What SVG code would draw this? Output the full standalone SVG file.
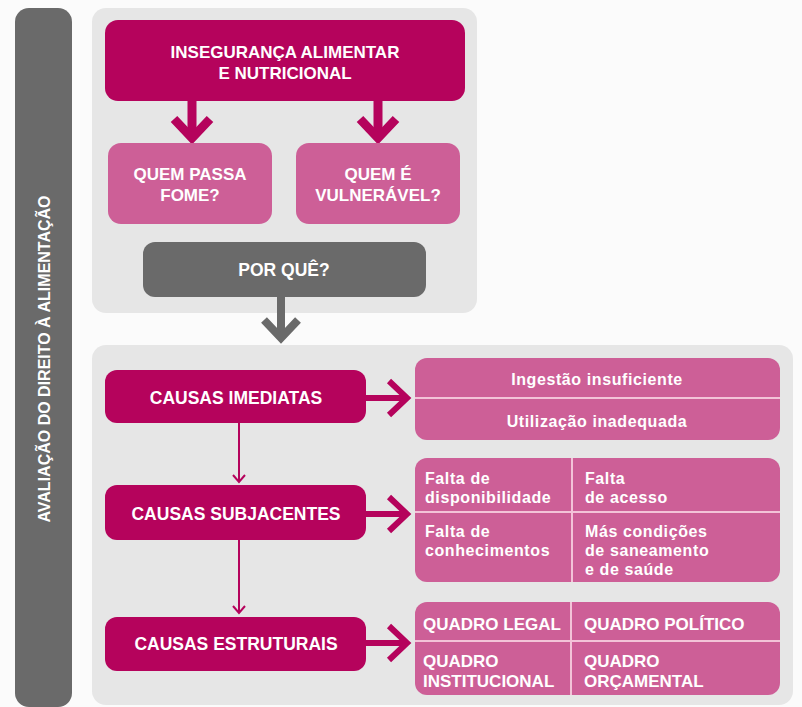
<svg xmlns="http://www.w3.org/2000/svg" width="802" height="707" viewBox="0 0 802 707">
<style>
.t{font-family:"Liberation Sans",Arial,sans-serif;font-weight:bold;fill:#fff;}
.c{font-size:17.5px;text-anchor:middle;}
.m{font-size:17px;text-anchor:middle;}
.l{font-size:16px;letter-spacing:0.6px;}
.q{font-size:17px;}
.dark{fill:#b5035c;}
.pink{fill:#cd5f97;}
.gray{fill:#6a6a6a;}
.panel{fill:#e6e6e6;}
.div{stroke:#f3c3d8;stroke-width:2;fill:none;}
.am{stroke:#b5035c;fill:none;stroke-linejoin:miter;}
.ag{stroke:#6a6a6a;fill:none;}
</style>
<rect width="802" height="707" fill="#fbfbfb"/>

<g id="side-bar">
<rect x="15" y="8" width="57" height="699" rx="14" class="gray"/>
<text class="t" font-size="16" text-anchor="middle" transform="translate(50,359) rotate(-90)">AVALIAÇÃO DO DIREITO À ALIMENTAÇÃO</text>
</g>

<g id="panel-top"><rect x="92" y="8" width="385" height="305" rx="14" class="panel"/></g>
<g id="panel-bottom"><rect x="92" y="345" width="701" height="360" rx="14" class="panel"/></g>

<g id="connectors">
<line x1="192" y1="101" x2="192" y2="136" class="am" stroke-width="9"/>
<polyline points="174,119 192,138 210,119" class="am" stroke-width="9"/>
<line x1="378" y1="101" x2="378" y2="136" class="am" stroke-width="9"/>
<polyline points="360,119 378,138 396,119" class="am" stroke-width="9"/>
<line x1="281" y1="297" x2="281" y2="337" class="ag" stroke-width="8"/>
<polyline points="264,320 281,338 298,320" class="ag" stroke-width="8"/>
<line x1="366" y1="398" x2="406" y2="398" class="am" stroke-width="6"/>
<polyline points="389,381 407,398 389,415" class="am" stroke-width="6"/>
<line x1="366" y1="514" x2="406" y2="514" class="am" stroke-width="6"/>
<polyline points="389,497 407,514 389,531" class="am" stroke-width="6"/>
<line x1="366" y1="643" x2="406" y2="643" class="am" stroke-width="6"/>
<polyline points="389,626 407,643 389,660" class="am" stroke-width="6"/>
<line x1="239" y1="423" x2="239" y2="482" class="am" stroke-width="2"/>
<polyline points="233,475 239,482 245,475" class="am" stroke-width="2"/>
<line x1="239" y1="540" x2="239" y2="613" class="am" stroke-width="2"/>
<polyline points="233,606 239,613 245,606" class="am" stroke-width="2"/>
</g>

<g id="inseguranca">
<rect x="105" y="20" width="360" height="81" rx="13" class="dark"/>
<text class="t m" x="285" y="58">INSEGURANÇA ALIMENTAR</text>
<text class="t m" x="285" y="79">E NUTRICIONAL</text>
</g>
<g id="quem-passa-fome">
<rect x="108" y="143" width="164" height="81" rx="13" class="pink"/>
<text class="t m" x="190" y="180">QUEM PASSA</text>
<text class="t m" x="190" y="201">FOME?</text>
</g>
<g id="quem-vulneravel">
<rect x="296" y="143" width="164" height="81" rx="13" class="pink"/>
<text class="t m" x="378" y="180">QUEM É</text>
<text class="t m" x="378" y="201">VULNERÁVEL?</text>
</g>
<g id="por-que">
<rect x="143" y="242" width="283" height="55" rx="12" class="gray"/>
<text class="t c" x="284" y="276">POR QUÊ?</text>
</g>

<g id="causas-imediatas">
<rect x="105" y="370" width="261" height="53" rx="12" class="dark"/>
<text class="t c" x="236" y="404">CAUSAS IMEDIATAS</text>
</g>
<g id="causas-subjacentes">
<rect x="105" y="485" width="261" height="55" rx="12" class="dark"/>
<text class="t c" x="236" y="520">CAUSAS SUBJACENTES</text>
</g>
<g id="causas-estruturais">
<rect x="105" y="617" width="261" height="54" rx="12" class="dark"/>
<text class="t c" x="236" y="650">CAUSAS ESTRUTURAIS</text>
</g>

<g id="imediatas-detalhe">
<rect x="415" y="358" width="365" height="82" rx="12" class="pink"/>
<line x1="415" y1="398" x2="780" y2="398" class="div"/>
<text class="t l" x="597" y="385" text-anchor="middle">Ingestão insuficiente</text>
<text class="t l" x="597" y="427" text-anchor="middle">Utilização inadequada</text>
</g>
<g id="subjacentes-detalhe">
<rect x="415" y="458" width="365" height="124" rx="12" class="pink"/>
<line x1="415" y1="512" x2="780" y2="512" class="div"/>
<line x1="572" y1="458" x2="572" y2="582" class="div"/>
<text class="t l" x="425" y="484">Falta de</text>
<text class="t l" x="425" y="503">disponibilidade</text>
<text class="t l" x="585" y="484">Falta</text>
<text class="t l" x="585" y="503">de acesso</text>
<text class="t l" x="425" y="537">Falta de</text>
<text class="t l" x="425" y="556">conhecimentos</text>
<text class="t l" x="585" y="537">Más condições</text>
<text class="t l" x="585" y="556">de saneamento</text>
<text class="t l" x="585" y="575">e de saúde</text>
</g>
<g id="estruturais-detalhe">
<rect x="415" y="602" width="365" height="93" rx="12" class="pink"/>
<line x1="415" y1="641" x2="780" y2="641" class="div"/>
<line x1="571" y1="602" x2="571" y2="695" class="div"/>
<text class="t q" x="423" y="630">QUADRO LEGAL</text>
<text class="t q" x="584" y="630">QUADRO POLÍTICO</text>
<text class="t q" x="423" y="667">QUADRO</text>
<text class="t q" x="423" y="687">INSTITUCIONAL</text>
<text class="t q" x="584" y="667">QUADRO</text>
<text class="t q" x="584" y="687">ORÇAMENTAL</text>
</g>
</svg>
